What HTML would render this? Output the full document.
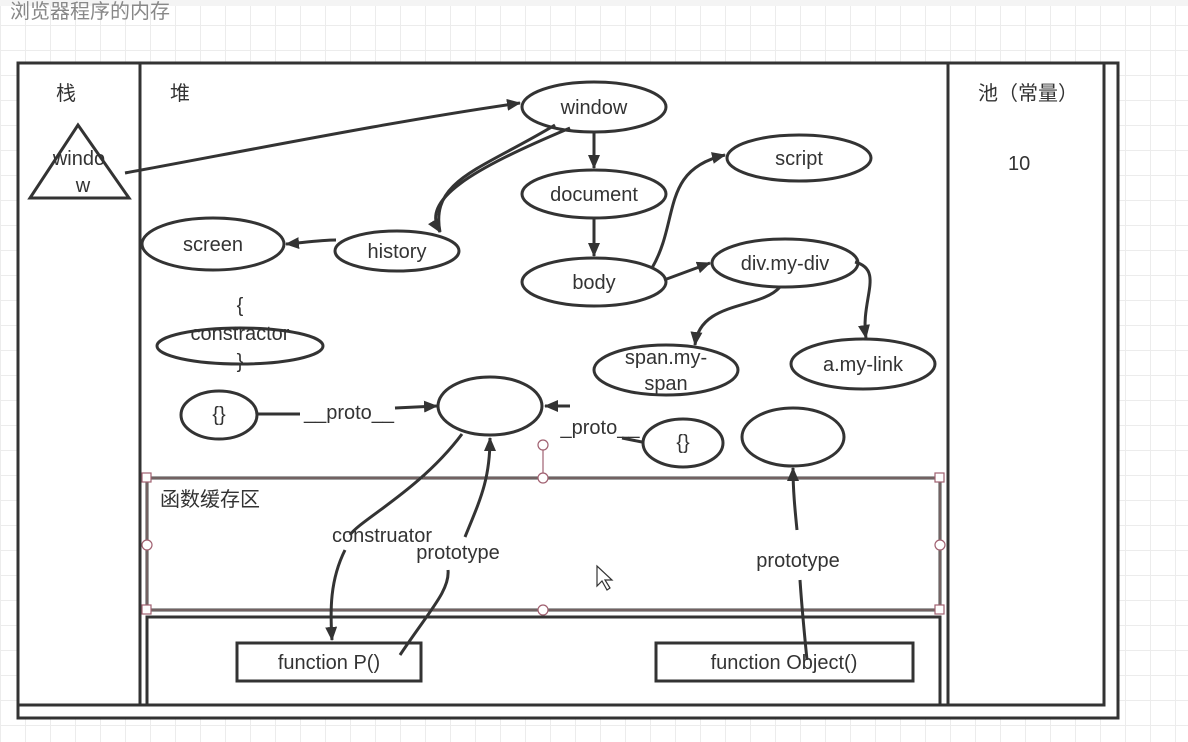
<!DOCTYPE html>
<html><head><meta charset="utf-8"><style>
body{margin:0;width:1188px;height:742px;overflow:hidden;background:#fff;
background-image:linear-gradient(#ececec 1px,transparent 1px),linear-gradient(90deg,#ececec 1px,transparent 1px);background-size:25px 25px;}
svg{position:absolute;left:0;top:0}
text{font-family:"Liberation Sans","Noto Sans CJK SC",sans-serif;fill:#333;font-size:20px}
</style></head><body>
<svg width="1188" height="742" viewBox="0 0 1188 742">
<defs><marker id="a" markerWidth="10" markerHeight="10" refX="9" refY="5" orient="auto" markerUnits="userSpaceOnUse"><path d="M0,0 L10,5 L0,10z" fill="#333"/></marker>
<marker id="b" markerWidth="14" markerHeight="12" refX="13" refY="6" orient="auto" markerUnits="userSpaceOnUse"><path d="M0,0 L14,6 L0,12z" fill="#333"/></marker></defs>
<rect x="0" y="0" width="1188" height="6" fill="#f4f4f4"/>
<text x="10" y="18" font-size="20" fill="#888" style="fill:#888">浏览器程序的内存</text>
<g fill="#fff" stroke="#333" stroke-width="3">
<rect x="18" y="63" width="1100" height="655" fill="#fff"/>
<rect x="18" y="63" width="122" height="642"/>
<rect x="140" y="63" width="808" height="642"/>
<rect x="948" y="63" width="156" height="642"/>
<rect x="147" y="617" width="793" height="88"/>
</g>
<rect x="147" y="478" width="793" height="132" fill="none" stroke="#444" stroke-width="3"/>
<rect x="147" y="478" width="793" height="132" fill="none" stroke="#a08080" stroke-width="1"/>
<g fill="#fff" stroke="#a06070" stroke-width="1.2">
<rect x="142" y="473" width="9" height="9"/><rect x="935" y="473" width="9" height="9"/>
<rect x="142" y="605" width="9" height="9"/><rect x="935" y="605" width="9" height="9"/>
<circle cx="543" cy="478" r="5"/><circle cx="543" cy="610" r="5"/><circle cx="147" cy="545" r="5"/><circle cx="940" cy="545" r="5"/>
<line x1="543" y1="473" x2="543" y2="450"/><circle cx="543" cy="445" r="5"/>
</g>
<text x="56" y="100">栈</text><text x="170" y="100">堆</text>
<text x="978" y="100">池（常量）</text><text x="1008" y="170">10</text>
<text x="160" y="506" font-size="18">函数缓存区</text>
<polygon points="78,125 30,198 129,198" fill="#fff" stroke="#333" stroke-width="3"/>
<text x="79" y="165" text-anchor="middle">windo</text><text x="83" y="192" text-anchor="middle">w</text>
<g fill="#fff" stroke="#333" stroke-width="3">
<ellipse cx="594" cy="107" rx="72" ry="25"/>
<ellipse cx="594" cy="194" rx="72" ry="24"/>
<ellipse cx="594" cy="282" rx="72" ry="24"/>
<ellipse cx="799" cy="158" rx="72" ry="23"/>
<ellipse cx="785" cy="263" rx="73" ry="24"/>
<ellipse cx="213" cy="244" rx="71" ry="26"/>
<ellipse cx="397" cy="251" rx="62" ry="20"/>
<ellipse cx="240" cy="346" rx="83" ry="18"/>
<ellipse cx="666" cy="370" rx="72" ry="25"/>
<ellipse cx="863" cy="364" rx="72" ry="25"/>
<ellipse cx="219" cy="415" rx="38" ry="24"/>
<ellipse cx="490" cy="406" rx="52" ry="29"/>
<ellipse cx="683" cy="443" rx="40" ry="24"/>
<ellipse cx="793" cy="437" rx="51" ry="29"/>
<rect x="237" y="643" width="184" height="38"/>
<rect x="656" y="643" width="257" height="38"/>
</g>
<g text-anchor="middle">
<text x="594" y="114">window</text><text x="594" y="201">document</text><text x="594" y="289">body</text>
<text x="799" y="165">script</text><text x="785" y="270">div.my-div</text><text x="213" y="251">screen</text>
<text x="397" y="258">history</text><text x="240" y="312">{</text><text x="240" y="340">constractor</text><text x="240" y="368">}</text>
<text x="666" y="364">span.my-</text><text x="666" y="390">span</text><text x="863" y="371">a.my-link</text>
<text x="219" y="421" font-size="16">{}</text><text x="683" y="449" font-size="16">{}</text>
<text x="329" y="669">function P()</text><text x="784" y="669">function Object()</text>
<text x="382" y="542">construator</text><text x="458" y="559">prototype</text><text x="798" y="567">prototype</text>
<text x="349" y="419">__proto__</text><text x="600" y="434">_proto__</text>
</g>
<g fill="none" stroke="#333" stroke-width="3">
<path d="M125,173 C250,150 400,120 520,103" marker-end="url(#b)"/>
<path d="M594,132 L594,168" marker-end="url(#b)"/>
<path d="M594,218 L594,256" marker-end="url(#b)"/>
<path d="M570,128 C470,170 420,200 440,232" marker-end="url(#b)"/>
<path d="M555,125 C480,170 430,180 440,232"/>
<path d="M336,240 C320,240 300,243 286,244" marker-end="url(#b)"/>
<path d="M652,268 C680,220 660,170 725,155" marker-end="url(#b)"/>
<path d="M664,280 L710,263" marker-end="url(#b)"/>
<path d="M780,287 C760,310 700,300 695,345" marker-end="url(#b)"/>
<path d="M855,262 C885,270 860,300 866,338" marker-end="url(#b)"/>
<path d="M258,414 L300,414"/><path d="M395,408 L437,406" marker-end="url(#b)"/>
<path d="M570,406 L545,406" marker-end="url(#b)"/>
<path d="M622,438 L642,442"/>
<path d="M462,434 C420,490 360,520 350,535"/>
<path d="M345,550 C330,580 330,610 332,640" marker-end="url(#b)"/>
<path d="M400,655 C430,610 450,590 448,570"/>
<path d="M465,537 C480,500 490,480 490,438" marker-end="url(#b)"/>
<path d="M797,530 C795,510 793,490 793,468" marker-end="url(#b)"/>
<path d="M800,580 C802,610 805,640 807,660"/>
</g>
<path d="M597,566 L597,586 L602,581 L607,590 L610,588 L605,580 L612,580z" fill="#fff" stroke="#333" stroke-width="1.2"/>
</svg>
</body></html>
